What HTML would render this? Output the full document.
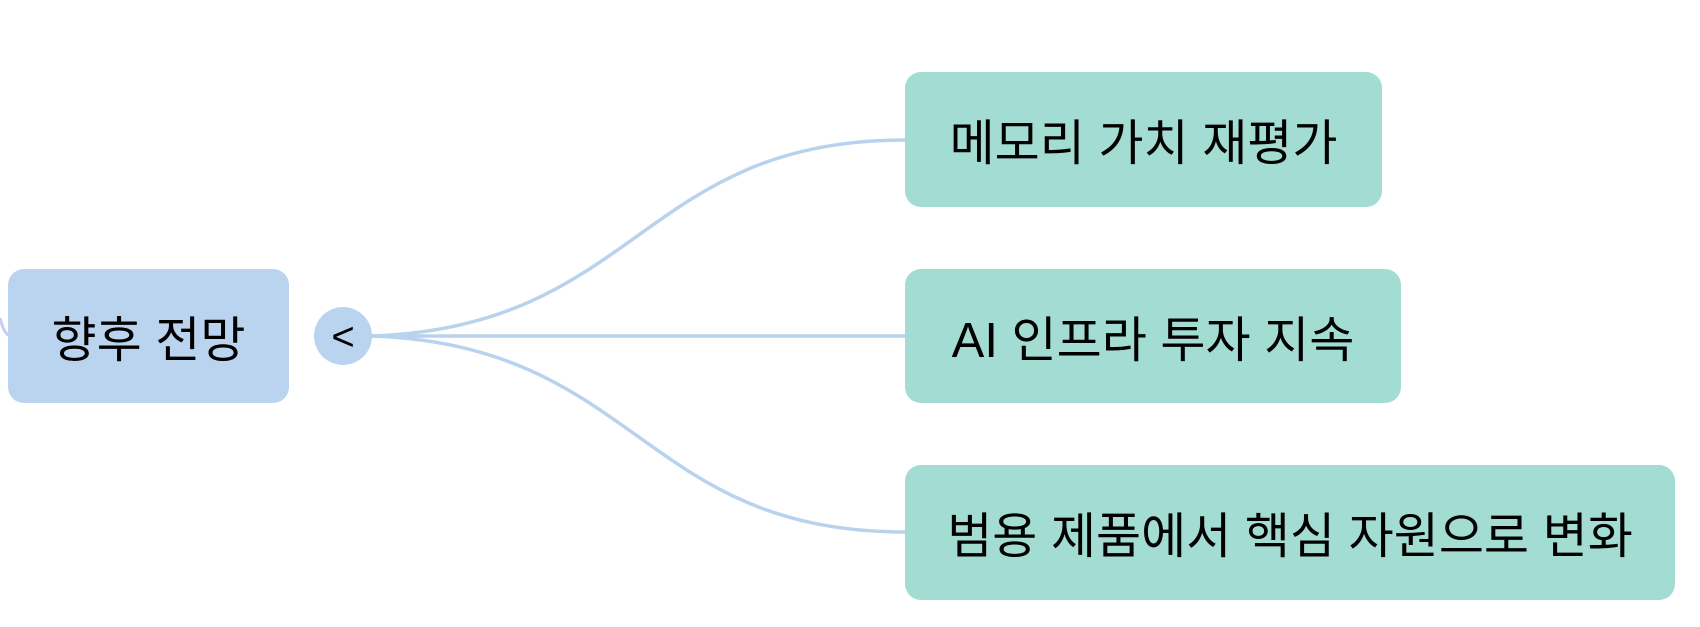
<!DOCTYPE html>
<html><head><meta charset="utf-8"><style>
body{margin:0;width:1700px;height:627px;background:#fff;position:relative;overflow:hidden;font-family:"Liberation Sans","Noto Sans CJK KR",sans-serif;}
.b{position:absolute;display:flex;align-items:center;justify-content:center;border-radius:16px;font-size:49px;color:#000;white-space:nowrap;}
.g{background:#a3dcd2;}
</style></head><body>
<svg width="1700" height="627" style="position:absolute;left:0;top:0">
<path d="M0 318 Q4 334 10 336" stroke="#c5cdf5" stroke-width="3" fill="none"/>
<g stroke="#b8d3ee" stroke-width="3.5" fill="none">
<path d="M372 336 C640 326 640 140 906 140"/>
<path d="M372 336 L906 336"/>
<path d="M372 336 C640 346 640 532 906 532"/>
</g>
<circle cx="343" cy="336" r="29" fill="#bad4ef"/>
<text x="343" y="350" font-size="40" text-anchor="middle" font-family="Liberation Sans,sans-serif">&lt;</text>
</svg>
<div class="b" style="left:8px;top:269px;width:281px;height:134px;background:#bad4ef">향후 전망</div>
<div class="b g" style="left:905px;top:72px;width:477px;height:135px">메모리 가치 재평가</div>
<div class="b g" style="left:905px;top:269px;width:496px;height:134px">AI 인프라 투자 지속</div>
<div class="b g" style="left:905px;top:465px;width:770px;height:135px">범용 제품에서 핵심 자원으로 변화</div>
</body></html>
